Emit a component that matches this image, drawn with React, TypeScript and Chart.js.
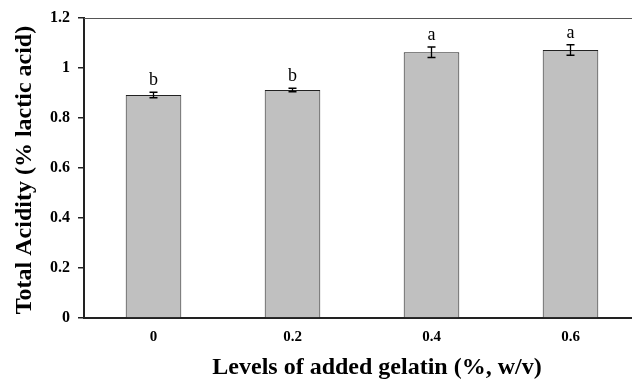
import React, { useEffect, useRef } from "react";
import { Chart, registerables } from "chart.js";

Chart.register(...registerables);

const categories = ["0", "0.2", "0.4", "0.6"];
const acidity = [0.892, 0.912, 1.063, 1.072];
const errors = [0.011, 0.007, 0.021, 0.021];
const letters = ["b", "b", "a", "a"];
const yTitle = "Total Acidity (% lactic acid)";
const xTitle = "Levels of added gelatin (%, w/v)";

const SERIF = "'Liberation Serif', 'Times New Roman', serif";

const extras = {
  id: "extras",
  afterDatasetsDraw(chart: any) {
    const { ctx, chartArea } = chart;
    const y = chart.scales.y;
    const meta = chart.getDatasetMeta(0);
    ctx.save();
    // top border
    ctx.strokeStyle = "#555";
    ctx.lineWidth = 1;
    ctx.beginPath();
    ctx.moveTo(chartArea.left, chartArea.top + 0.5);
    ctx.lineTo(chartArea.right, chartArea.top + 0.5);
    ctx.stroke();
    // error bars and letters
    ctx.strokeStyle = "#000";
    ctx.lineWidth = 1.3;
    meta.data.forEach((bar: any, i: number) => {
      const x = bar.x;
      const top = y.getPixelForValue(acidity[i] + errors[i]);
      const bot = y.getPixelForValue(acidity[i] - errors[i]);
      ctx.beginPath();
      ctx.moveTo(x, top);
      ctx.lineTo(x, bot);
      ctx.moveTo(x - 4, top);
      ctx.lineTo(x + 4, top);
      ctx.moveTo(x - 4, bot);
      ctx.lineTo(x + 4, bot);
      ctx.stroke();
      ctx.fillStyle = "#000";
      ctx.font = `18px ${SERIF}`;
      ctx.textAlign = "center";
      ctx.textBaseline = "alphabetic";
      ctx.fillText(letters[i], x, top - 7);
    });
    // titles
    ctx.font = `bold 24px ${SERIF}`;
    ctx.fillStyle = "#000";
    ctx.textAlign = "center";
    ctx.textBaseline = "middle";
    ctx.fillText(xTitle, 377, 368);
    ctx.translate(25, 170);
    ctx.rotate(-Math.PI / 2);
    ctx.fillText(yTitle, 0, 0);
    ctx.restore();
  },
};

export default function App() {
  const ref = useRef<HTMLCanvasElement>(null);
  useEffect(() => {
    if (!ref.current) return;
    const chart = new Chart(ref.current, {
      type: "bar",
      data: {
        labels: categories,
        datasets: [
          {
            data: acidity,
            backgroundColor: "#c0c0c0",
            borderColor: "#222",
            borderWidth: 1,
            barPercentage: 0.4,
            categoryPercentage: 1,
          },
        ],
      },
      options: {
        animation: false,
        responsive: false,
        layout: { padding: { top: 18, right: 10, left: 0, bottom: 0 } },
        plugins: { legend: { display: false }, tooltip: { enabled: false } },
        scales: {
          x: {
            grid: { display: false, drawTicks: false },
            border: { display: true, color: "#222", width: 2 },
            ticks: {
              color: "#000",
              font: { family: SERIF, size: 15, weight: "bold" },
              padding: 10,
            },
            afterFit: (s: any) => {
              s.height = 63;
            },
          },
          y: {
            min: 0,
            max: 1.2,
            grid: { drawOnChartArea: false, tickLength: 6, color: "#222", lineWidth: 1.5 },
            border: { display: true, color: "#222", width: 2 },
            ticks: {
              stepSize: 0.2,
              color: "#000",
              font: { family: SERIF, size: 16, weight: "bold" },
              padding: 8,
              callback: (v: any) => String(Math.round(Number(v) * 10) / 10),
            },
            afterFit: (s: any) => {
              s.width = 84;
            },
          },
        },
      },
      plugins: [extras],
    });
    return () => chart.destroy();
  }, []);
  return (
    <div
      style={{
        position: "fixed",
        left: 0,
        top: 0,
        width: 632,
        height: 381,
        overflow: "hidden",
        background: "#fff",
      }}
    >
      <canvas ref={ref} width={650} height={381} style={{ display: "block" }} />
    </div>
  );
}
